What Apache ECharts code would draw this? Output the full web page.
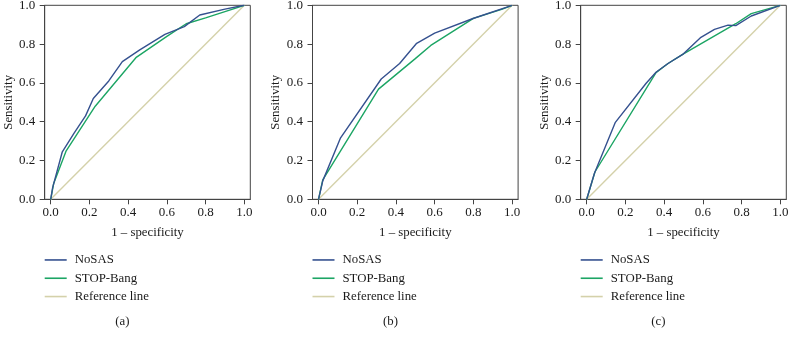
<!DOCTYPE html>
<html>
<head>
<meta charset="utf-8">
<script src="https://cdn.jsdelivr.net/npm/echarts@6/dist/echarts.min.js"></script>
<style>
  html, body { margin: 0; padding: 0; background: #fff; }
  #chart { width: 789px; height: 340px; }
</style>
</head>
<body>
<div id="chart"></div>
<script>
// ROC points: [1 - specificity, sensitivity]
const nosasA = [[0, 0], [0.01, 0.06], [0.06, 0.245], [0.12, 0.34], [0.18, 0.43], [0.22, 0.52], [0.3, 0.61],
  [0.37, 0.71], [0.46, 0.77], [0.59, 0.85], [0.69, 0.89], [0.77, 0.95], [0.9, 0.98], [1, 1]];
const stopA = [[0, 0], [0.015, 0.08], [0.08, 0.25], [0.23, 0.48], [0.44, 0.73], [0.6, 0.84], [0.7, 0.905],
  [0.8, 0.935], [1, 1]];

const nosasB = [[0, 0], [0.022, 0.095], [0.114, 0.317], [0.324, 0.62], [0.419, 0.7], [0.507, 0.804],
  [0.6, 0.857], [0.798, 0.932], [1, 1]];
const stopB = [[0, 0], [0.022, 0.1], [0.31, 0.568], [0.5, 0.725], [0.58, 0.793], [0.8, 0.933],
  [0.95, 0.98], [1, 1]];

const nosasC = [[0, 0], [0.04, 0.134], [0.147, 0.395], [0.307, 0.598], [0.358, 0.655], [0.42, 0.7],
  [0.5, 0.75], [0.59, 0.835], [0.66, 0.876], [0.73, 0.898], [0.77, 0.895], [0.85, 0.945], [1, 1]];
const stopC = [[0, 0], [0.043, 0.142], [0.358, 0.653], [0.42, 0.7], [0.5, 0.75], [0.77, 0.905],
  [0.85, 0.957], [1, 1]];

const refLine = [[0, 0], [1, 1]];

const tickValues = [0, 0.2, 0.4, 0.6, 0.8, 1.0];
const seriesNames = ['NoSAS', 'STOP-Bang', 'Reference line'];
const panelLabels = ['(a)', '(b)', '(c)'];

const panels = [
  { left: 44.7, nosas: nosasA, stop: stopA },
  { left: 312.5, nosas: nosasB, stop: stopB },
  { left: 580.7, nosas: nosasC, stop: stopC }
];

const font = 'Liberation Serif';
const axisColor = '#444';
const textColor = '#1a1a1a';
const colors = { nosas: '#35518f', stop: '#1ca564', ref: '#d4d1aa' };

const chart = echarts.init(document.getElementById('chart'));

const grids = [], xAxes = [], yAxes = [], series = [], legends = [], graphics = [];

panels.forEach((p, i) => {
  grids.push({
    left: p.left,
    top: 5.3,
    width: 205.6,
    height: 194,
    show: true,
    borderColor: axisColor,
    borderWidth: 1,
    backgroundColor: 'transparent',
    containLabel: false,
    outerBoundsMode: 'none'
  });
  xAxes.push({
    gridIndex: i,
    type: 'value',
    min: -0.031,
    max: 1.031,
    name: '1 – specificity',
    nameLocation: 'middle',
    nameGap: 27,
    nameTextStyle: { fontFamily: font, fontSize: 12.8, color: textColor },
    axisLine: { show: true, onZero: false, lineStyle: { color: axisColor } },
    axisTick: { show: true, length: 5, customValues: tickValues, lineStyle: { color: axisColor } },
    axisLabel: {
      customValues: tickValues,
      margin: 7,
      fontFamily: font,
      fontSize: 13,
      color: textColor,
      formatter: v => v.toFixed(1)
    },
    splitLine: { show: false }
  });
  yAxes.push({
    gridIndex: i,
    type: 'value',
    min: 0,
    max: 1,
    interval: 0.2,
    name: 'Sensitivity',
    nameLocation: 'middle',
    nameGap: 30,
    nameTextStyle: { fontFamily: font, fontSize: 12.8, color: textColor },
    axisLine: { show: true, onZero: false, lineStyle: { color: axisColor } },
    axisTick: { show: true, length: 5, lineStyle: { color: axisColor } },
    axisLabel: {
      margin: 9.5,
      fontFamily: font,
      fontSize: 13,
      color: textColor,
      formatter: v => v.toFixed(1)
    },
    splitLine: { show: false }
  });
  const lineSeries = (name, data, color) => ({
    name: name,
    type: 'line',
    xAxisIndex: i,
    yAxisIndex: i,
    data: data,
    symbol: 'none',
    silent: true,
    lineStyle: { color: color, width: 1.4 },
    itemStyle: { color: color }
  });
  series.push(lineSeries('Reference line', refLine, colors.ref));
  series.push(lineSeries('STOP-Bang', p.stop, colors.stop));
  series.push(lineSeries('NoSAS', p.nosas, colors.nosas));

  legends.push({
    data: seriesNames,
    orient: 'vertical',
    left: p.left,
    top: 250.8,
    padding: 0,
    itemGap: 0,
    itemWidth: 22,
    itemHeight: 1.6,
    icon: 'rect',
    selectedMode: false,
    textStyle: {
      fontFamily: font,
      fontSize: 12.8,
      color: textColor,
      lineHeight: 18.3,
      padding: [0, 0, 0, 3]
    }
  });

  graphics.push({
    type: 'text',
    left: p.left + 78.5 - 8,
    top: 315.5,
    style: { text: panelLabels[i], fontFamily: font, fontSize: 12.8, fill: textColor }
  });
});

const option = {
  animation: false,
  grid: grids,
  xAxis: xAxes,
  yAxis: yAxes,
  legend: legends,
  series: series,
  graphic: graphics
};

chart.setOption(option);
</script>
</body>
</html>
